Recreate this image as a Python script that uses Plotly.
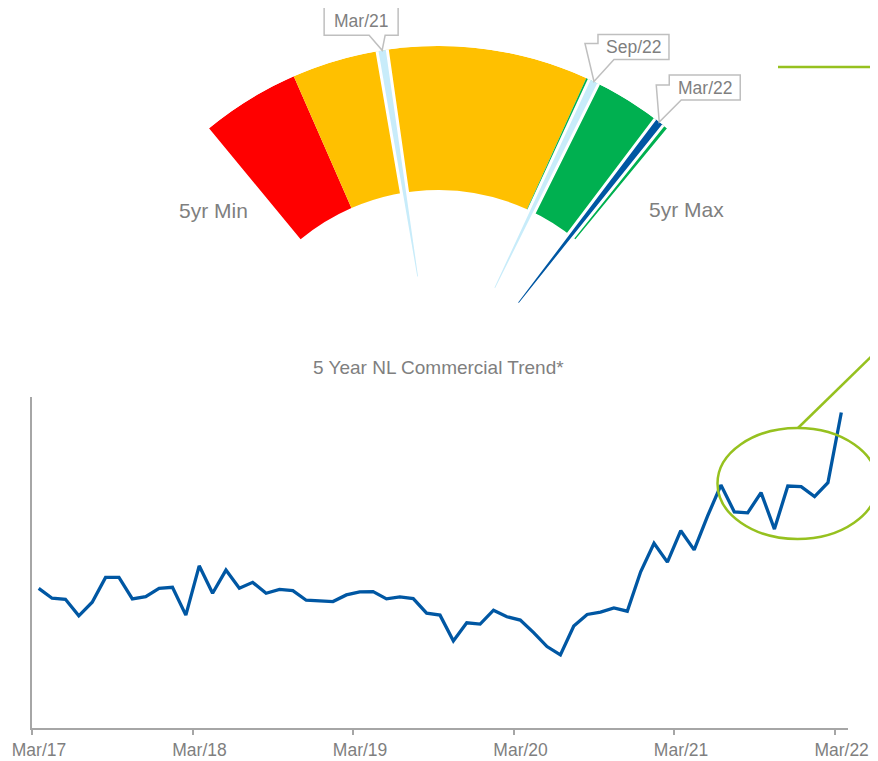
import math
import plotly.graph_objects as go

# ---------------- data ----------------
MONTHS = [f"{m}/{y}" for y in range(17, 23) for m in
          ["Jan", "Feb", "Mar", "Apr", "May", "Jun", "Jul", "Aug", "Sep", "Oct", "Nov", "Dec"]][2:63]
TREND = [42.2, 39.2, 38.9, 33.9, 38.0, 45.5, 45.5, 39.0, 39.7, 42.2,
         42.5, 34.1, 49.0, 40.7, 47.7, 42.2, 44.0, 40.7, 41.9, 41.5,
         38.6, 38.4, 38.2, 40.2, 41.1, 41.2, 39.0, 39.6, 39.1, 34.7,
         34.1, 26.3, 31.8, 31.4, 35.6, 33.6, 32.6, 28.8, 24.6, 22.1,
         30.8, 34.3, 35.0, 36.3, 35.3, 47.2, 55.8, 50.1, 59.6, 53.8,
         64.0, 73.4, 65.3, 65.0, 71.1, 60.1, 73.1, 72.9, 69.9, 74.1,
         95.3]
TICK_LABELS = ["Mar/17", "Mar/18", "Mar/19", "Mar/20", "Mar/21", "Mar/22"]

GAUGE_MIN, GAUGE_MAX = 0, 100
BAND_LOW = [0, 20.1, 80.8]
BAND_HIGH = [20.1, 80.8, 100]
BAND_COLORS = ["#FF0000", "#FFC000", "#00B050"]
NEEDLE_LABELS = ["Mar/21", "Sep/22", "Mar/22"]
NEEDLE_VALUES = [38.7, 82.5, 98.0]
NEEDLE_COLORS = ["#C8ECFA", "#C8ECFA", "#0057A3"]

# ---------------- style / geometry ----------------
OFF = 8                   # page offset of the plot div
W, H = 878 - OFF, 761 - OFF
FONT = "Liberation Sans, Arial, sans-serif"
GRAY = "#7F7F7F"
AXIS = "#A6A6A6"
GREEN_LINE = "#96C11F"
HALF_SPAN = 39.5          # degrees each side of vertical
CX, CY, RAD = 438, 406, 360
HOLE = 0.6


def px(x):
    return (x - OFF) / W


def py(y):
    return 1 - (y - OFF) / H


def angle(v):
    return -HALF_SPAN + 2 * HALF_SPAN * (v - GAUGE_MIN) / (GAUGE_MAX - GAUGE_MIN)


fig = go.Figure()

# gauge bands
b_theta = [(angle(lo) + angle(hi)) / 2 for lo, hi in zip(BAND_LOW, BAND_HIGH)]
b_width = [angle(hi) - angle(lo) for lo, hi in zip(BAND_LOW, BAND_HIGH)]
fig.add_trace(go.Barpolar(
    theta=b_theta, width=b_width, r=[1 - HOLE] * 3, base=[HOLE] * 3,
    marker=dict(color=BAND_COLORS, line=dict(width=0)),
    hoverinfo="skip", showlegend=False))

# needles
n_theta = [angle(v) for v in NEEDLE_VALUES]
fig.add_trace(go.Barpolar(
    theta=n_theta, width=[1.65] * 3, r=[0.645] * 3, base=[0.36] * 3,
    marker=dict(color=NEEDLE_COLORS, line=dict(color="white", width=3)),
    hoverinfo="skip", showlegend=False))

# trend line
xs = list(range(len(TREND)))
fig.add_trace(go.Scatter(
    x=xs, y=TREND, mode="lines",
    line=dict(color="#0057A3", width=3.3),
    hoverinfo="skip", showlegend=False))

tickvals = [MONTHS.index(t) - 0.5 for t in TICK_LABELS]

s0, s1 = 90 - HALF_SPAN - 0.5, 90 + HALF_SPAN + 0.5
bbw = 2 * math.cos(math.radians(s0))
x0 = CX - RAD * bbw / 2

fig.update_layout(
    width=W, height=H, autosize=False,
    margin=dict(l=0, r=0, t=0, b=0, pad=0, autoexpand=False),
    paper_bgcolor="white", plot_bgcolor="white",
    font=dict(family=FONT, color=GRAY),
    polar=dict(
        domain=dict(x=[px(x0), px(x0 + RAD * bbw)], y=[py(CY), py(CY - RAD)]),
        sector=[s0, s1], hole=0, bgcolor="rgba(0,0,0,0)",
        radialaxis=dict(visible=False, range=[0, 1]),
        angularaxis=dict(visible=False, rotation=90, direction="clockwise"),
    ),
    xaxis=dict(
        domain=[px(32), px(848)], range=[-0.5, len(TREND) - 0.5],
        tickmode="array", tickvals=tickvals, ticktext=TICK_LABELS,
        ticks="outside", ticklen=5, tickwidth=1.5, tickcolor=AXIS,
        ticklabelshift=7, automargin=False,
        showline=True, linecolor=AXIS, linewidth=1.5,
        showgrid=False, zeroline=False,
        tickfont=dict(size=17.5, color=GRAY, family=FONT),
    ),
    yaxis=dict(
        domain=[py(728), py(397)], range=[0, 100], automargin=False,
        showline=True, linecolor=AXIS, linewidth=1.5,
        showticklabels=False, ticks="", showgrid=False, zeroline=False,
    ),
)

shapes = []
annotations = []


def label(x, y, text, size):
    return dict(x=px(x), y=py(y), xref="paper", yref="paper", text=text,
                showarrow=False, xanchor="center", yanchor="middle",
                font=dict(size=size, color=GRAY, family=FONT))


# callouts: box (dx0, dy0, dx1, dy1) relative to needle tip, then pointer points relative to tip
CALLOUT = {
    "Mar/21": dict(box=(-58, -44, 16, -15), ptr=[(3, -15), (0, 0), (-13, -15)]),
    "Sep/22": dict(box=(4, -47, 75, -22), ptr=[(20, -22), (0, 0), (-9, -38), (4, -38)]),
    "Mar/22": dict(box=(10, -47, 81, -22), ptr=[(22, -22), (0, 0), (-3, -37), (10, -37)]),
}
for lab, a in zip(NEEDLE_LABELS, n_theta):
    tx = CX + RAD * math.sin(math.radians(a))
    ty = CY - RAD * math.cos(math.radians(a))
    c = CALLOUT[lab]
    bx0, by0, bx1, by1 = c["box"]
    if len(c["ptr"]) == 3:
        pts = [(bx0, by0), (bx1, by0), (bx1, by1)] + c["ptr"] + [(bx0, by1)]
    else:
        pts = [(bx0, by0), (bx1, by0), (bx1, by1)] + c["ptr"]
    path = "M " + " L ".join(f"{px(tx + dx):.5f},{py(ty + dy):.5f}" for dx, dy in pts) + " Z"
    shapes.append(dict(type="path", path=path, xref="paper", yref="paper",
                       fillcolor="white", line=dict(color="#BFBFBF", width=1.5), layer="above"))
    annotations.append(label(tx + (bx0 + bx1) / 2, ty + (by0 + by1) / 2, lab, 17.5))

# min / max labels and trend title
annotations.append(label(213, 210, "5yr Min", 21))
annotations.append(label(686, 209, "5yr Max", 21))
annotations.append(label(438, 367, "5 Year NL Commercial Trend*", 19))

# green highlight: ellipse + connector
shapes.append(dict(type="circle", xref="paper", yref="paper",
                   x0=px(717.5), x1=px(877.5), y0=py(539), y1=py(428),
                   line=dict(color=GREEN_LINE, width=2.5), layer="above"))
shapes.append(dict(type="line", xref="paper", yref="paper",
                   x0=px(798), y0=py(428), x1=px(880), y1=py(348),
                   line=dict(color=GREEN_LINE, width=2.5), layer="above"))
shapes.append(dict(type="line", xref="paper", yref="paper",
                   x0=px(778), y0=py(67), x1=px(880), y1=py(67),
                   line=dict(color=GREEN_LINE, width=2.5), layer="above"))

fig.update_layout(shapes=shapes, annotations=annotations)
fig.write_html("out.html")
